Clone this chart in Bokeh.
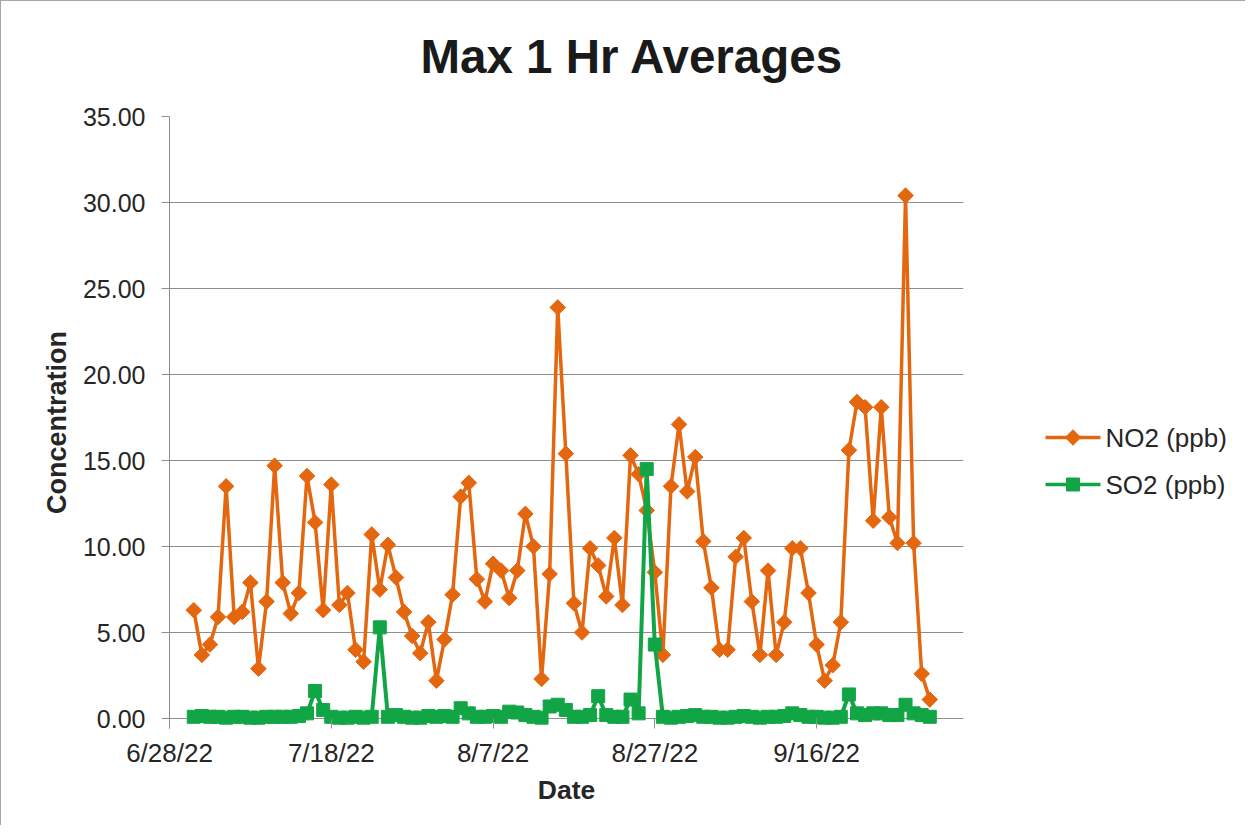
from datetime import datetime
import pandas as pd
from bokeh.plotting import figure
from bokeh.layouts import row
from bokeh.models import (Range1d, FixedTicker, CustomJSTickFormatter, NumeralTickFormatter,
                          ColumnDataSource, Title)
from bokeh.core.properties import value
from bokeh.embed import file_html
from bokeh.resources import INLINE

title_text = "Max 1 Hr Averages"
x_title = "Date"
y_title = "Concentration"
series_names = ["NO2 (ppb)", "SO2 (ppb)"]

dates = pd.date_range("2022-07-01", periods=92, freq="D")

no2 = [6.3, 3.7, 4.3, 5.9, 13.5, 5.9, 6.2, 7.9, 2.9, 6.8,
       14.7, 7.9, 6.1, 7.3, 14.1, 11.4, 6.3, 13.6, 6.6, 7.3,
       4.0, 3.3, 10.7, 7.5, 10.1, 8.2, 6.2, 4.8, 3.8, 5.6,
       2.2, 4.6, 7.2, 12.9, 13.7, 8.1, 6.8, 9.0, 8.6, 7.0,
       8.6, 11.9, 10.0, 2.3, 8.4, 23.9, 15.4, 6.7, 5.0, 9.9,
       8.9, 7.1, 10.5, 6.6, 15.3, 14.2, 12.1, 8.5, 3.7, 13.5,
       17.1, 13.2, 15.2, 10.3, 7.6, 4.0, 4.0, 9.4, 10.5, 6.8,
       3.7, 8.6, 3.7, 5.6, 9.9, 9.9, 7.3, 4.3, 2.2, 3.1,
       5.6, 15.6, 18.4, 18.1, 11.5, 18.1, 11.7, 10.2, 30.4, 10.2,
       2.6, 1.1]

so2 = [0.1, 0.15, 0.1, 0.1, 0.05, 0.1, 0.1, 0.05, 0.05, 0.1,
       0.1, 0.1, 0.1, 0.15, 0.3, 1.6, 0.5, 0.1, 0.05, 0.05,
       0.1, 0.05, 0.1, 5.3, 0.1, 0.2, 0.1, 0.05, 0.05, 0.15,
       0.1, 0.15, 0.1, 0.6, 0.3, 0.1, 0.1, 0.15, 0.1, 0.4,
       0.35, 0.2, 0.1, 0.05, 0.7, 0.8, 0.5, 0.1, 0.1, 0.2,
       1.3, 0.2, 0.1, 0.1, 1.1, 0.3, 14.5, 4.3, 0.1, 0.05,
       0.1, 0.15, 0.2, 0.1, 0.1, 0.05, 0.05, 0.1, 0.15, 0.1,
       0.05, 0.1, 0.1, 0.15, 0.3, 0.2, 0.1, 0.1, 0.05, 0.05,
       0.1, 1.4, 0.3, 0.2, 0.3, 0.3, 0.2, 0.2, 0.8, 0.3,
       0.2, 0.1]

x_tick_dates = ["2022-06-28", "2022-07-18", "2022-08-07", "2022-08-27", "2022-09-16"]
y_ticks = [0, 5, 10, 15, 20, 25, 30, 35]

FONT = "Liberation Sans"
TXT = "#262626"
GRID = "#8e8e8e"
BORDER = "1px solid #a6a6a6"
ORANGE = "#E4670F"
GREEN = "#12A546"
colors = [ORANGE, GREEN]

src = ColumnDataSource(dict(date=dates, no2=no2, so2=so2))

p = figure(width=967, height=825, x_axis_type="datetime",
           x_range=Range1d(datetime(2022, 6, 28), datetime(2022, 10, 4, 4)),
           y_range=Range1d(-0.58, 35),
           output_backend="svg", toolbar_location=None,
           min_border_left=168, min_border_right=5,
           min_border_top=115, min_border_bottom=98)
p.outline_line_color = None
p.background_fill_color = "white"
p.border_fill_color = "white"

# title (outermost) with an empty spacer between it and the frame
p.title.text = title_text
p.title.text_font = FONT
p.title.text_font_size = "47.5px"
p.title.text_font_style = "bold"
p.title.text_color = "#1a1a1a"
p.title.align = "left"
p.title.offset = 251
p.title.standoff = 20
p.add_layout(Title(text=" ", text_font_size="1px", standoff=21), "above")

# grid
p.xgrid.grid_line_color = None
p.ygrid.grid_line_color = GRID
p.ygrid.grid_line_width = 1
p.ygrid.ticker = FixedTicker(ticks=y_ticks)

# y axis
p.yaxis.ticker = FixedTicker(ticks=y_ticks)
p.yaxis.formatter = NumeralTickFormatter(format="0.00")
p.yaxis.axis_line_color = GRID
p.yaxis.major_tick_line_color = GRID
p.yaxis.major_tick_in = 0
p.yaxis.major_tick_out = 8
p.yaxis.minor_tick_line_color = None
p.yaxis.major_label_standoff = 16
p.yaxis.major_label_text_font = FONT
p.yaxis.major_label_text_font_size = "25px"
p.yaxis.major_label_text_color = TXT
p.yaxis.axis_label = y_title
p.yaxis.axis_label_text_font = FONT
p.yaxis.axis_label_text_font_size = "27px"
p.yaxis.axis_label_text_font_style = "bold"
p.yaxis.axis_label_text_color = TXT
p.yaxis.axis_label_standoff = 8

# x axis
tick_ms = [pd.Timestamp(d).value / 1e6 for d in x_tick_dates]
p.xaxis.ticker = FixedTicker(ticks=tick_ms)
p.xaxis.formatter = CustomJSTickFormatter(code="""
const d = new Date(tick);
return (d.getUTCMonth()+1) + '/' + d.getUTCDate() + '/' + String(d.getUTCFullYear()).slice(2);
""")
p.xaxis.axis_line_color = None
p.xaxis.major_tick_line_color = GRID
p.xaxis.major_tick_in = 10
p.xaxis.major_tick_out = 0
p.xaxis.minor_tick_line_color = None
p.xaxis.major_label_standoff = 9
p.xaxis.major_label_text_font = FONT
p.xaxis.major_label_text_font_size = "26px"
p.xaxis.major_label_text_color = TXT
p.xaxis.axis_label = x_title
p.xaxis.axis_label_text_font = FONT
p.xaxis.axis_label_text_font_size = "26.5px"
p.xaxis.axis_label_text_font_style = "bold"
p.xaxis.axis_label_text_color = TXT
p.xaxis.axis_label_standoff = 4

# series
p.line("date", "no2", source=src, line_color=ORANGE, line_width=3.5)
p.scatter("date", "no2", source=src, marker="square", size=11, angle=0.785398,
          fill_color=ORANGE, line_color=ORANGE)
p.line("date", "so2", source=src, line_color=GREEN, line_width=4)
p.scatter("date", "so2", source=src, marker="square", size=13,
          fill_color=GREEN, line_color=GREEN)

# legend panel (separate canvas so it is not clipped by the plot frame);
# its frame is aligned with the plot frame (page y 115..727)
q = figure(width=278, height=825, x_range=Range1d(0, 278), y_range=Range1d(727, 115),
           output_backend="svg", toolbar_location=None,
           x_axis_location=None, y_axis_location=None,
           min_border=0, min_border_left=0, min_border_right=0,
           min_border_top=0, min_border_bottom=0)
q.outline_line_color = None
q.grid.visible = False
q.border_fill_color = "white"
q.background_fill_color = "white"

leg_y = [436, 483]
leg_src = ColumnDataSource(dict(y=leg_y, name=series_names, color=colors,
                                marker=["square", "square"], angle=[0.785398, 0.0],
                                size=[11, 13]))
q.segment(x0=78, x1=133, y0="y", y1="y", source=leg_src, line_color="color", line_width=3.5)
q.scatter(x=105.5, y="y", source=leg_src, marker="marker", size="size", angle="angle",
          fill_color="color", line_color="color")
q.text(x=138, y="y", text="name", source=leg_src, text_baseline="middle", text_align="left",
       text_font=value(FONT), text_font_size="26px", text_color=TXT)

p.styles = {"border-left": BORDER, "border-top": BORDER}
q.styles = {"border-top": BORDER}

layout = row(p, q, spacing=0)
open("out.html", "w").write(file_html(layout, INLINE))
